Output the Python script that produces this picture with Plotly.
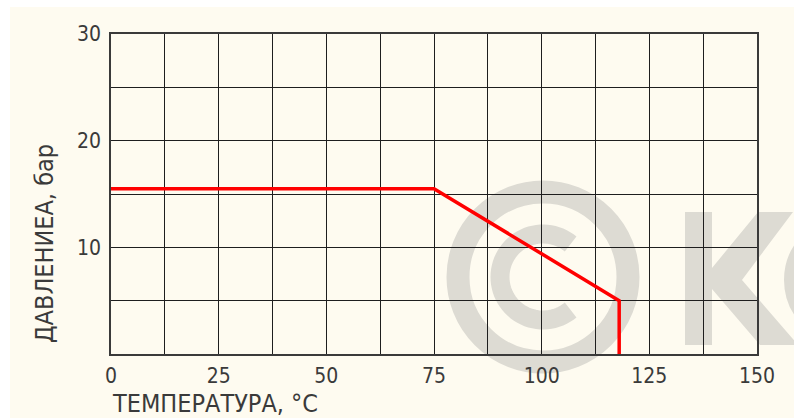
import math
import plotly.graph_objects as go

# ---- data ----
temperature = [0, 75, 118, 118]
pressure = [15.5, 15.5, 5, 0]

x_tick_vals = [0, 12.5, 25, 37.5, 50, 62.5, 75, 87.5, 100, 112.5, 125, 137.5, 150]
x_tick_text = ["0", "", "25", "", "50", "", "75", "", "100", "", "125", "", "150"]
y_tick_vals = [0, 5, 10, 15, 20, 25, 30]
y_tick_text = ["", "", "10", "", "20", "", "30"]

x_title = "ТЕМПЕРАТУРА, °C"
y_title = "ДАВЛЕНИЕА, бар"

# ---- layout geometry (pixels) ----
W, H = 794, 420
L, R, T, B = 111, 37, 34, 66
PW, PH = W - L - R, H - T - B


def px(x):
    return (x - L) / PW


def py(y):
    return (H - B - y) / PH


FONT = "DejaVu Sans Condensed, Liberation Sans Narrow, DejaVu Sans, Arial"
TXT = "#3a3a3a"
CREAM = "#fefbf0"
WM = "#dddbd3"

fig = go.Figure()
fig.add_trace(go.Scatter(
    x=temperature, y=pressure, mode="lines",
    line=dict(color="#ff0000", width=3.5),
    hoverinfo="skip", showlegend=False,
))

shapes = []
# cream background
shapes.append(dict(type="rect", xref="paper", yref="paper", layer="below",
                   x0=px(10), x1=px(800), y0=py(7), y1=py(418),
                   fillcolor=CREAM, line=dict(width=0)))
# watermark: copyright ring
cx, cy = 543, 277
r_out = 85
shapes.append(dict(type="circle", xref="paper", yref="paper", layer="below",
                   x0=px(cx - r_out), x1=px(cx + r_out), y0=py(cy + r_out), y1=py(cy - r_out),
                   line=dict(color=WM, width=23), fillcolor="rgba(0,0,0,0)"))
# inner C as a polygonal arc
r_c = 43
pts = []
for i in range(0, 61):
    a = math.radians(50 + i * (260 / 60))
    pts.append((px(cx + r_c * math.cos(a)), py(cy - r_c * math.sin(a))))
path = "M " + " L ".join(f"{x:.5f},{y:.5f}" for x, y in pts)
shapes.append(dict(type="path", xref="paper", yref="paper", layer="below",
                   path=path, line=dict(color=WM, width=19)))
# K
kpts = [(685, 212), (712, 212), (712, 268), (758, 212), (793, 212), (742, 280),
        (798, 345), (760, 345), (712, 289), (712, 345), (685, 345)]
kpath = "M " + " L ".join(f"{px(x):.5f},{py(y):.5f}" for x, y in kpts) + " Z"
shapes.append(dict(type="path", xref="paper", yref="paper", layer="below",
                   path=kpath, fillcolor=WM, line=dict(width=0)))
# partial O at right edge
ocx, ocy, orad = 848, 280, 52
shapes.append(dict(type="circle", xref="paper", yref="paper", layer="below",
                   x0=px(ocx - orad), x1=px(ocx + orad), y0=py(ocy + orad), y1=py(ocy - orad),
                   line=dict(color=WM, width=24), fillcolor="rgba(0,0,0,0)"))

axis_common = dict(
    showgrid=True, gridcolor="#1e1e1e", gridwidth=1.3,
    showline=True, linecolor="#3a3a3a", linewidth=1.5, mirror=True,
    ticks="", zeroline=False,
    tickfont=dict(family=FONT, size=21, color=TXT),
)

fig.update_layout(
    width=W, height=H,
    margin=dict(l=L, r=R, t=T, b=B),
    paper_bgcolor="white",
    plot_bgcolor="rgba(0,0,0,0)",
    showlegend=False,
    shapes=shapes,
    xaxis=dict(range=[0, 150], tickmode="array", tickvals=x_tick_vals, ticktext=x_tick_text,
               ticklabelstandoff=2, **axis_common),
    yaxis=dict(range=[0, 30], tickmode="array", tickvals=y_tick_vals, ticktext=y_tick_text,
               ticklabelstandoff=4, **axis_common),
    annotations=[
        dict(text=x_title, xref="paper", yref="paper", x=px(110), y=py(403),
             xanchor="left", yanchor="middle", showarrow=False,
             font=dict(family=FONT, size=25, color=TXT)),
        dict(text=y_title, xref="paper", yref="paper", x=px(44), y=py(244),
             xanchor="center", yanchor="middle", textangle=-90, showarrow=False,
             font=dict(family=FONT, size=25, color=TXT)),
    ],
)

fig.write_html("out.html", config={"displayModeBar": False},
               post_script="document.body.style.margin='0px';document.body.style.padding='0px';")
